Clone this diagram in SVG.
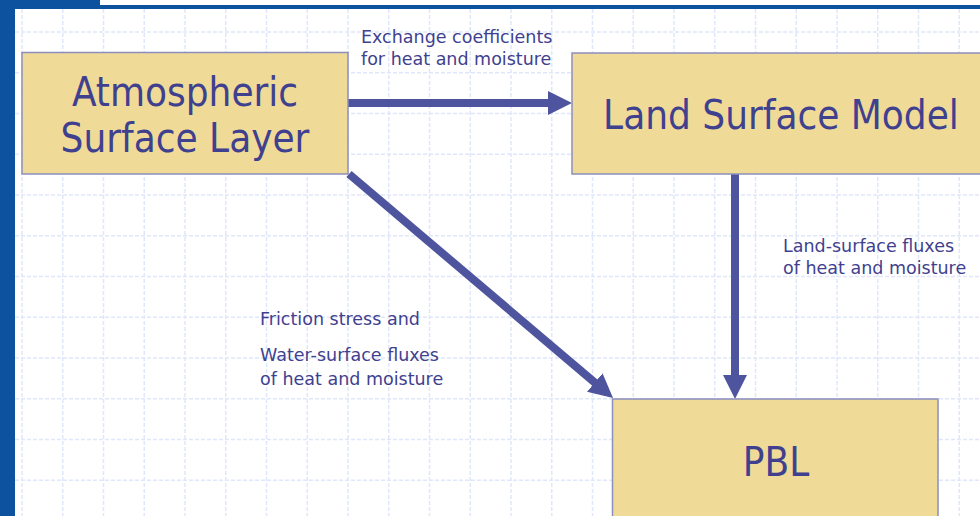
<svg xmlns="http://www.w3.org/2000/svg" width="980" height="516" viewBox="0 0 980 516">
  <defs>
    <style>
      .frame { fill: #0c529e; }
      .grid { fill: none; stroke: #e0e7fa; stroke-width: 1.5; stroke-dasharray: 4 2; }
      .box { fill: #f0da98; stroke: #8c8fbe; stroke-width: 1.5; }
      .big { font-family: "DejaVu Sans Condensed", "DejaVu Sans", sans-serif; font-stretch: condensed; font-size: 40px; fill: #3f418f; text-anchor: middle; }
      .lbl { font-family: "DejaVu Sans", Verdana, sans-serif; font-size: 17.5px; fill: #3f418f; }
      .conn { stroke: #4e559e; stroke-width: 8; fill: none; }
      .head { fill: #4e559e; }
    </style>
    <marker id="arrow" markerUnits="userSpaceOnUse" markerWidth="24" markerHeight="24" refX="4" refY="12" orient="auto" viewBox="0 0 24 24">
      <path class="head" d="M0,0 L24,12 L0,24 Z"/>
    </marker>
  </defs>

  <!-- background and frame -->
  <rect x="0" y="0" width="980" height="516" fill="#ffffff"/>
  <path class="grid" d="M22,9V516 M62.75,9V516 M103.5,9V516 M144.25,9V516 M185,9V516 M225.75,9V516 M266.5,9V516 M307.25,9V516 M348,9V516 M388.75,9V516 M429.5,9V516 M470.25,9V516 M511,9V516 M551.75,9V516 M592.5,9V516 M633.25,9V516 M674,9V516 M714.75,9V516 M755.5,9V516 M796.25,9V516 M837,9V516 M877.75,9V516 M918.5,9V516 M959.25,9V516 M15,32H980 M15,72.75H980 M15,113.5H980 M15,154.25H980 M15,195H980 M15,235.75H980 M15,276.5H980 M15,317.25H980 M15,358H980 M15,398.75H980 M15,439.5H980 M15,480.25H980"/>
  <rect class="frame" x="0" y="0" width="15" height="516"/>
  <rect class="frame" x="0" y="0" width="100" height="9"/>
  <rect class="frame" x="100" y="5" width="880" height="4"/>

  <!-- connectors -->
  <g id="connectors">
    <line class="conn" x1="348" y1="103" x2="552" y2="103" marker-end="url(#arrow)"/>
    <line class="conn" x1="735" y1="174" x2="735" y2="379" marker-end="url(#arrow)"/>
    <line class="conn" x1="349" y1="174" x2="597.8" y2="385.1" marker-end="url(#arrow)"/>
  </g>

  <!-- nodes -->
  <g id="atmospheric-surface-layer">
    <rect class="box" x="22" y="52.5" width="326" height="121.5"/>
    <text class="big" x="185" y="105.7">Atmospheric</text>
    <text class="big" x="185" y="151.7">Surface Layer</text>
  </g>
  <g id="land-surface-model">
    <rect class="box" x="572" y="53" width="420" height="121"/>
    <text class="big" x="781" y="129.3">Land Surface Model</text>
  </g>
  <g id="pbl">
    <rect class="box" x="612.5" y="399" width="325.5" height="130"/>
    <text class="big" x="776" y="476">PBL</text>
  </g>

  <!-- connector labels -->
  <g id="labels">
    <text class="lbl" x="361" y="42.5">Exchange coefficients</text>
    <text class="lbl" x="361" y="64.7">for heat and moisture</text>
    <text class="lbl" x="783" y="251.7">Land-surface fluxes</text>
    <text class="lbl" x="783" y="274.3">of heat and moisture</text>
    <text class="lbl" x="260" y="325">Friction stress and</text>
    <text class="lbl" x="260" y="361">Water-surface fluxes</text>
    <text class="lbl" x="260" y="385">of heat and moisture</text>
  </g>
</svg>
